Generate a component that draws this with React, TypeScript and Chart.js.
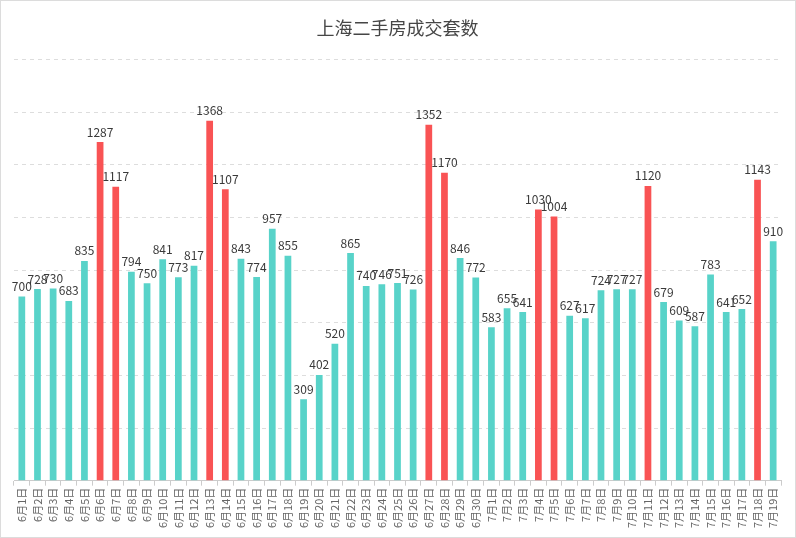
import { useEffect, useRef } from "react";
import Chart from "chart.js/auto";

const days: string[] = [
  "6月1日", "6月2日", "6月3日", "6月4日", "6月5日", "6月6日", "6月7日", "6月8日", "6月9日", "6月10日",
  "6月11日", "6月12日", "6月13日", "6月14日", "6月15日", "6月16日", "6月17日", "6月18日", "6月19日", "6月20日",
  "6月21日", "6月22日", "6月23日", "6月24日", "6月25日", "6月26日", "6月27日", "6月28日", "6月29日", "6月30日",
  "7月1日", "7月2日", "7月3日", "7月4日", "7月5日", "7月6日", "7月7日", "7月8日", "7月9日", "7月10日",
  "7月11日", "7月12日", "7月13日", "7月14日", "7月15日", "7月16日", "7月17日", "7月18日", "7月19日",
];

const deals: number[] = [
  700, 728, 730, 683, 835, 1287, 1117, 794, 750, 841,
  773, 817, 1368, 1107, 843, 774, 957, 855, 309, 402,
  520, 865, 740, 746, 751, 726, 1352, 1170, 846, 772,
  583, 655, 641, 1030, 1004, 627, 617, 724, 727, 727,
  1120, 679, 609, 587, 783, 641, 652, 1143, 910,
];

// days drawn in red
const highlighted: string[] = [
  "6月6日", "6月7日", "6月13日", "6月14日", "6月27日", "6月28日",
  "7月4日", "7月5日", "7月11日", "7月18日",
];

const TEAL = "#58d3c9";
const RED = "#f95354";

const valueLabels = {
  id: "valueLabels",
  afterDatasetsDraw(chart: any) {
    const ctx = chart.ctx;
    const meta = chart.getDatasetMeta(0);
    ctx.save();
    ctx.font = "12px 'Noto Sans CJK SC', 'Noto Sans', sans-serif";
    ctx.fillStyle = "#3a3a3a";
    ctx.textAlign = "center";
    ctx.textBaseline = "bottom";
    meta.data.forEach((bar: any, i: number) => {
      ctx.fillText(String(deals[i]), bar.x, bar.y - 4);
    });
    ctx.restore();
  },
};

export default function App() {
  const ref = useRef<HTMLCanvasElement>(null);

  useEffect(() => {
    if (!ref.current) return;
    const chart = new Chart(ref.current, {
      type: "bar",
      data: {
        labels: days,
        datasets: [
          {
            label: "成交套数",
            data: deals,
            backgroundColor: days.map((d) => (highlighted.includes(d) ? RED : TEAL)),
            categoryPercentage: 1,
            barPercentage: 0.43,
          },
        ],
      },
      options: {
        animation: false,
        responsive: false,
        maintainAspectRatio: false,
        layout: { padding: { left: 13, right: 14, top: 0, bottom: 7 } },
        plugins: {
          legend: { display: false },
          tooltip: { enabled: false },
          title: {
            display: true,
            text: "上海二手房成交套数",
            color: "#464646",
            font: { size: 18, weight: "normal", family: "'Noto Sans CJK SC', sans-serif" },
            padding: { top: 16, bottom: 21 },
          },
        },
        scales: {
          x: {
            grid: {
              offset: true,
              drawOnChartArea: false,
              drawTicks: true,
              tickLength: 5,
              color: "#cccccc",
            },
            border: { display: true, color: "#cccccc" },
            ticks: {
              autoSkip: false,
              minRotation: 90,
              maxRotation: 90,
              padding: 2,
              color: "#666",
              font: { size: 11, family: "'Noto Sans CJK SC', sans-serif" },
            },
          },
          y: {
            min: 0,
            max: 1600,
            ticks: { display: false, stepSize: 200 },
            border: { display: false, dash: [4, 4] },
            grid: {
              drawTicks: false,
              tickLength: 0,
              color: (c: any) => (c.tick && c.tick.value === 0 ? "rgba(0,0,0,0)" : "#dddddd"),
            },
            afterFit: (s: any) => {
              s.width = 0;
            },
          },
        },
      },
      plugins: [valueLabels],
    });
    return () => {
      chart.destroy();
    };
  }, [ref]);

  return (
    <div
      style={{
        position: "absolute",
        left: 0,
        top: 0,
        width: 796,
        height: 538,
        boxSizing: "border-box",
        border: "1px solid #dcdcdc",
        background: "#fff",
      }}
    >
      <canvas ref={ref} width={794} height={536} style={{ display: "block" }} />
    </div>
  );
}
